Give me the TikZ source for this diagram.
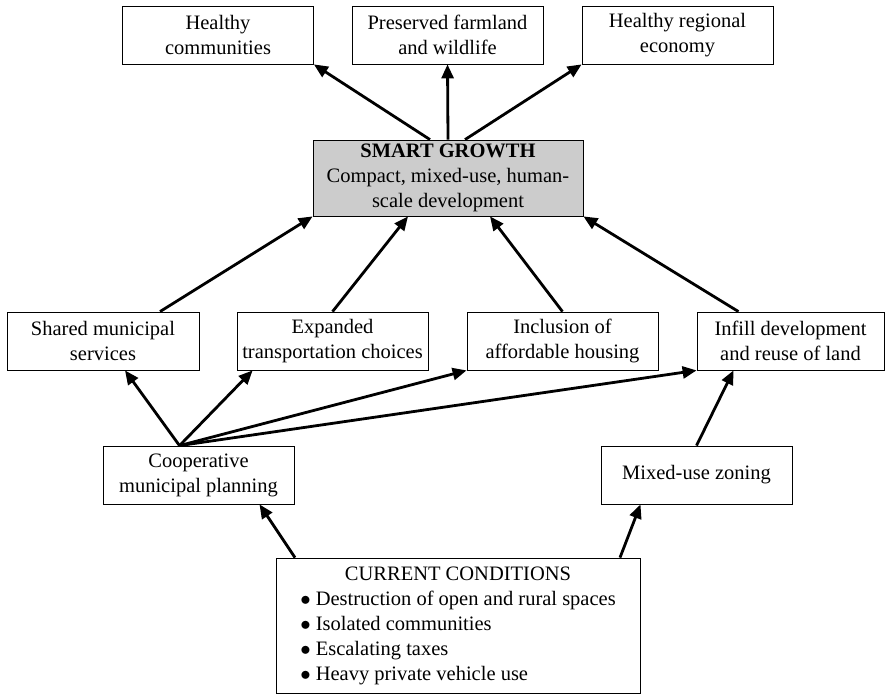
\documentclass[tikz,border=0pt]{standalone}
\usepackage{fontspec}
\setmainfont{Liberation Serif}
\usepackage{tikz}
\usetikzlibrary{arrows.meta}

\begin{document}
\begin{tikzpicture}[
    x=1pt, y=-1pt,
    box/.style={draw, line width=0.8pt, minimum width=191pt, minimum height=58pt, inner sep=2pt, align=center, font=\fontsize{20.5}{25}\selectfont},
    arrow/.style={-{Triangle[length=14pt,width=12pt]}, line width=2.8pt}
]
\useasboundingbox (0,0) rectangle (885,696);

% Outcomes
\node[box] (hcomm) at (218,35) {Healthy\\communities};
\node[box] (farm) at (447.5,35) {Preserved farmland\\and wildlife};
\node[box] (econ) at (677.5,35) {Healthy regional\\economy};

% Smart growth
\node[box, fill=black!20, minimum width=270pt, minimum height=76pt] (smart) at (448,178)
    {\textbf{SMART GROWTH}\\Compact, mixed-use, human-\\scale development};

\draw[arrow] ([xshift=-18pt]smart.north) -- (hcomm.south east);
\draw[arrow] (smart.north) -- (farm.south);
\draw[arrow] ([xshift=17pt]smart.north) -- (econ.south west);

% Strategies
\node[box, minimum width=192pt] (shared) at (103,341) {Shared municipal\\services};
\node[box] (transp) at (332.5,341) {Expanded\\transportation choices};
\node[box] (housing) at (562.5,341) {Inclusion of\\affordable housing};
\node[box, minimum width=187pt] (infill) at (790.5,341) {Infill development\\and reuse of land};

\draw[arrow] ([xshift=57pt]shared.north) -- (smart.south west);
\draw[arrow] (transp.north) -- ([xshift=-40pt]smart.south);
\draw[arrow] (housing.north) -- ([xshift=42pt]smart.south);
\draw[arrow] ([xshift=-52pt]infill.north) -- (smart.south east);

% Tools
\node[box] (coop) at (198.5,475) {Cooperative\\municipal planning};
\node[box] (zoning) at (696.5,475) {Mixed-use zoning};

\coordinate (coopn) at ([xshift=-19pt]coop.north);
\draw[arrow] (coopn) -- ([xshift=22pt]shared.south);
\draw[arrow] (coopn) -- ([xshift=16pt]transp.south west);
\draw[arrow] (coopn) -- (housing.south west);
\draw[arrow] (coopn) -- (infill.south west);
\draw[arrow] (zoning.north) -- ([xshift=-57pt]infill.south);

% Current conditions
\node[box, minimum width=364pt, minimum height=135pt] (current) at (458,625.5)
    {\begin{tabular}{@{}l@{}}
    \multicolumn{1}{c}{CURRENT CONDITIONS}\\
    $\bullet$\ Destruction of open and rural spaces\\
    $\bullet$\ Isolated communities\\
    $\bullet$\ Escalating taxes\\
    $\bullet$\ Heavy private vehicle use
    \end{tabular}};

\draw[arrow] ([xshift=-163pt]current.north) -- ([xshift=61pt]coop.south);
\draw[arrow] ([xshift=162pt]current.north) -- ([xshift=-56pt]zoning.south);

\end{tikzpicture}
\end{document}
